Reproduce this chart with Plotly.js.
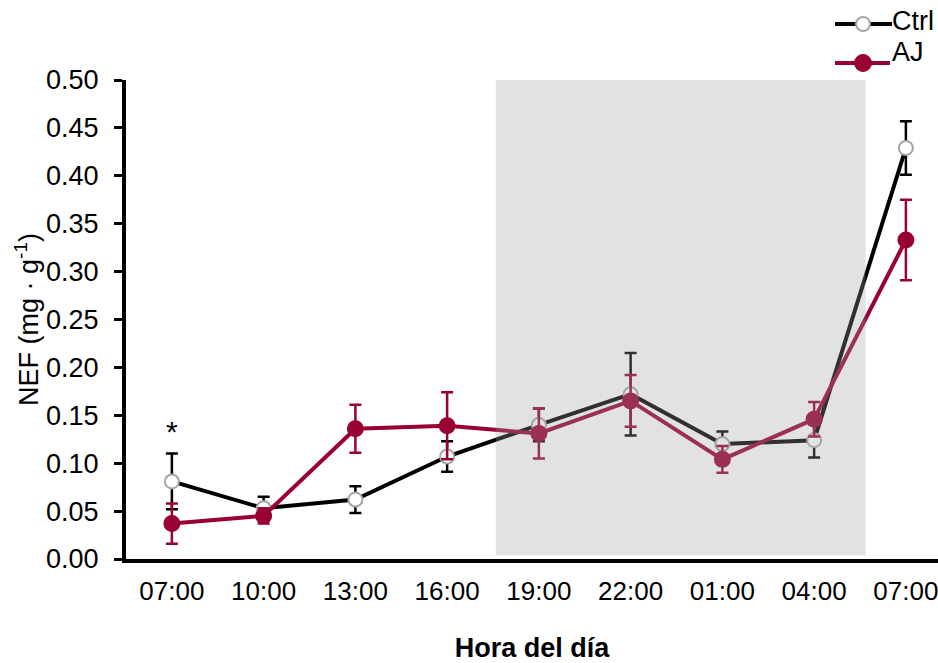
<!DOCTYPE html>
<html>
<head>
<meta charset="utf-8">
<script src="https://cdn.plot.ly/plotly-3.0.1.min.js"></script>
<style>html,body{margin:0;padding:0;background:#fff;}#chart{width:938px;height:663px;}</style>
</head>
<body>
<div id="chart"></div>
<script>
const hours = ["07:00","10:00","13:00","16:00","19:00","22:00","01:00","04:00","07:00"];
const seriesNames = ["Ctrl","AJ"];
const ctrlMean = [0.081,0.053,0.062,0.107,0.140,0.172,0.120,0.124,0.429];
const ctrlErr  = [0.029,0.012,0.014,0.016,0.017,0.043,0.013,0.018,0.028];
const ajMean   = [0.037,0.045,0.136,0.139,0.131,0.165,0.104,0.146,0.333];
const ajErr    = [0.021,0.008,0.025,0.035,0.026,0.027,0.014,0.018,0.042];
const nightStart = 3.53, nightEnd = 7.56;
const signifIdx = [0];
const signifY = [0.133];

const FONT = '"Liberation Sans",Arial,sans-serif';
const RED = 'rgb(153,0,51)';
const xIdx = hours.map((h,i)=>i);

const traces = [
  {x:xIdx, y:ctrlMean, name:seriesNames[0], type:'scatter', mode:'lines+markers',
   line:{color:'#000', width:4},
   marker:{size:14, color:'#fff', line:{color:'#a6a6a6', width:2}},
   error_y:{type:'data', array:ctrlErr, visible:true, color:'#000', thickness:2.5, width:6}},
  {x:xIdx, y:ajMean, name:seriesNames[1], type:'scatter', mode:'lines+markers',
   line:{color:RED, width:4},
   marker:{size:17, color:RED},
   error_y:{type:'data', array:ajErr, visible:true, color:RED, thickness:2.5, width:6}}
];

// layout geometry
const W=938, H=663, L=126, R=0, T=80, B=104;
const pw=W-L-R, ph=H-T-B;
const px = v => (v-L)/pw;
const py = v => (H-B-v)/ph;

const shapes = [
  {type:'rect', xref:'x', yref:'y', x0:nightStart, x1:nightEnd, y0:0.004, y1:0.5,
   fillcolor:'rgb(160,160,160)', opacity:0.3, line:{width:0}, layer:'above'},
  // legend lines
  {type:'line', xref:'paper', yref:'paper', x0:px(835), x1:px(892), y0:py(24), y1:py(24), line:{color:'#000', width:4}},
  {type:'line', xref:'paper', yref:'paper', x0:px(835), x1:px(890), y0:py(63), y1:py(63), line:{color:RED, width:4}},
  {type:'circle', xref:'paper', yref:'paper', xsizemode:'pixel', ysizemode:'pixel',
   xanchor:px(863), yanchor:py(24), x0:-7, x1:7, y0:-7, y1:7, fillcolor:'#fff', line:{color:'#a6a6a6', width:2}},
  {type:'circle', xref:'paper', yref:'paper', xsizemode:'pixel', ysizemode:'pixel',
   xanchor:px(863), yanchor:py(63), x0:-8.5, x1:8.5, y0:-8.5, y1:8.5, fillcolor:RED, line:{color:RED, width:1}}
];

const annotations = [
  {xref:'paper', yref:'paper', x:px(890), y:py(21), xanchor:'left', yanchor:'middle', text:seriesNames[0], showarrow:false, font:{family:FONT, size:27, color:'#000'}},
  {xref:'paper', yref:'paper', x:px(890), y:py(52), xanchor:'left', yanchor:'middle', text:seriesNames[1], showarrow:false, font:{family:FONT, size:27, color:'#000'}}
];
signifIdx.forEach((k,i)=>annotations.push({x:k, y:signifY[i], xref:'x', yref:'y', text:'*', showarrow:false, font:{family:FONT, size:30, color:'#000'}}));

const layout = {
  width:W, height:H,
  margin:{l:L, r:R, t:T, b:B},
  paper_bgcolor:'#fff', plot_bgcolor:'#fff',
  showlegend:false,
  font:{family:FONT, size:27, color:'#000'},
  xaxis:{range:[-0.5,8.35], tickmode:'array', tickvals:xIdx, ticktext:hours,
    showline:true, linecolor:'#000', linewidth:4, ticks:'', showgrid:false, zeroline:false,
    tickfont:{family:FONT, size:26}, ticklabelstandoff:6, ticklabeloverflow:'allow',
    title:{text:'<b>Hora del día</b>', font:{family:FONT, size:27}, standoff:50}, automargin:false},
  yaxis:{range:[0,0.5], dtick:0.05, tick0:0, tickformat:'.2f',
    showline:true, linecolor:'#000', linewidth:4, ticks:'outside', ticklen:8, tickwidth:3, tickcolor:'#000',
    showgrid:false, zeroline:false, tickfont:{family:FONT, size:27}, ticklabelstandoff:10,
    title:{text:'NEF (mg · g<sup>-1</sup>)', font:{family:FONT, size:27}}, automargin:false},
  shapes:shapes,
  annotations:annotations
};

Plotly.newPlot('chart', traces, layout, {staticPlot:true, displayModeBar:false});
</script>
</body>
</html>
